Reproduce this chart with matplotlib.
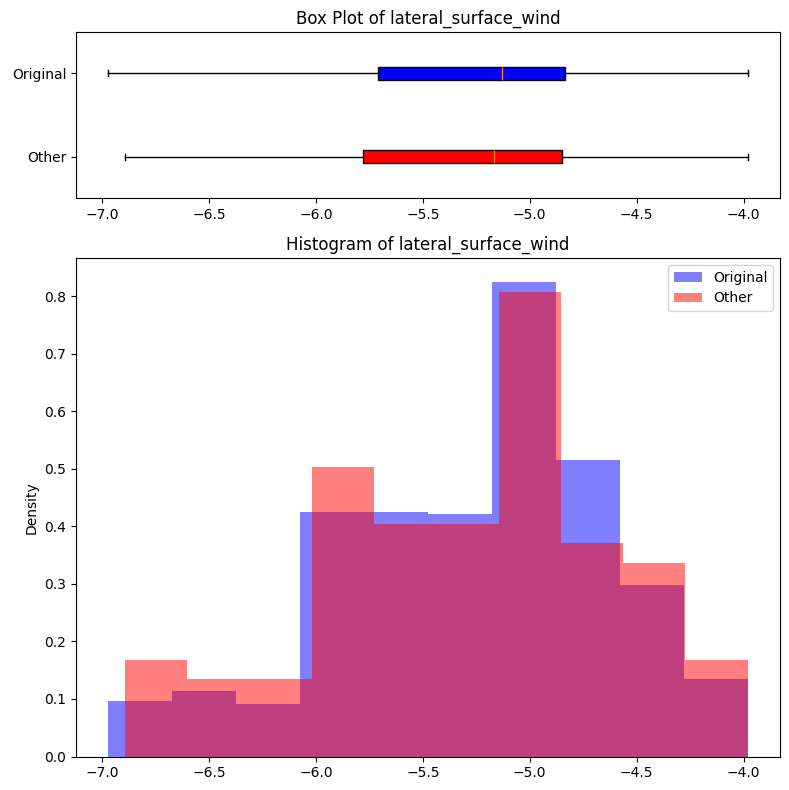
import numpy as np
import matplotlib
matplotlib.use("Agg")
import matplotlib.pyplot as plt

# Datos de la variable
variable = "lateral_surface_wind"
etiquetas = ["Original", "Other"]
colores = ["blue", "red"]

# Resumen de cajas (min, q1, mediana, q3, max)
orig_caja = [-6.972, -5.710, -5.131, -4.833, -3.981]
otro_caja = [-6.893, -5.780, -5.167, -4.849, -3.981]

# Histogramas (densidad por bin)
orig_min, orig_max = -6.972, -3.981
otro_min, otro_max = -6.893, -3.981
orig_dens = [0.0964, 0.1137, 0.0911, 0.4245, 0.4245, 0.421, 0.8255, 0.5148, 0.2977, 0.1345]
otro_dens = [0.1675, 0.1345, 0.1345, 0.504, 0.4036, 0.4036, 0.808, 0.3707, 0.336, 0.1675]

fig = plt.figure(figsize=(7.89, 7.90), dpi=100)
ax1 = fig.add_axes([0.0963, 0.749, 0.892, 0.2109])
ax2 = fig.add_axes([0.0963, 0.0424, 0.892, 0.6310])

# Box plot horizontal
stats = []
for lab, c in zip(etiquetas, [orig_caja, otro_caja]):
    stats.append({"label": lab, "whislo": c[0], "q1": c[1], "med": c[2],
                  "q3": c[3], "whishi": c[4], "fliers": []})
bp = ax1.bxp(stats, positions=[2, 1], widths=0.15, orientation="horizontal",
             patch_artist=True)
for caja, col in zip(bp["boxes"], colores):
    caja.set_facecolor(col)
ax1.set_ylim(0.5, 2.5)
ax1.set_title(f"Box Plot of {variable}")

# Histograma
bordes_orig = np.linspace(orig_min, orig_max, len(orig_dens) + 1)
bordes_otro = np.linspace(otro_min, otro_max, len(otro_dens) + 1)
ax2.hist(bordes_orig[:-1], bins=bordes_orig, weights=orig_dens, alpha=0.5,
         color="blue", label="Original")
ax2.hist(bordes_otro[:-1], bins=bordes_otro, weights=otro_dens, alpha=0.5,
         color="red", label="Other")
ax2.set_ylabel("Density")
ax2.set_title(f"Histogram of {variable}")
ax2.legend(loc="upper right")

for ax in (ax1, ax2):
    ax.set_xlim(-7.122, -3.831)
    ax.set_xticks([-7.0, -6.5, -6.0, -5.5, -5.0, -4.5, -4.0])

fig.savefig("out.png", dpi=100)
